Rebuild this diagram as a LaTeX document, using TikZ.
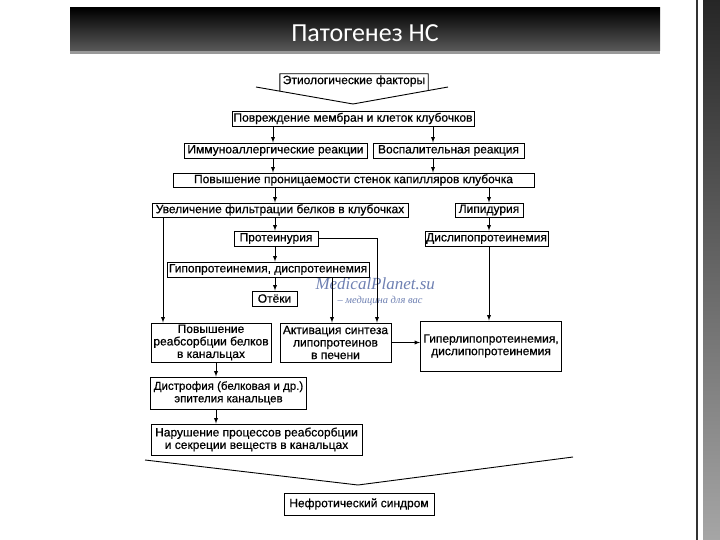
\documentclass[tikz,border=0pt]{standalone}
\usepackage{fontspec}
\setmainfont{Liberation Sans}
\newfontfamily\boxfont{Liberation Sans}[FakeBold=0.6]
\newfontfamily\titlefont{Carlito}
\newfontfamily\wmfont{Liberation Serif}
\definecolor{wmblue}{RGB}{110,128,178}

\begin{document}
\begin{tikzpicture}[x=1pt,y=-1pt,
        box/.style 2 args={draw,line width=0.9pt,inner sep=0pt,align=center,
          minimum width=#1,minimum height=#2,font=\boxfont\fontsize{12}{12.5}\selectfont},
        arr/.style={line width=0.9pt,-latex}]
        \useasboundingbox (0,0) rectangle (720,540);
        \shade[top color=black,bottom color=black!65] (70,8) rectangle (660,51);
        \fill[black!40] (70,51) rectangle (660,54);
        \node[white,font=\titlefont\fontsize{26}{28}\selectfont] (title) at (365,33) {Патогенез НС};
        \draw[black!80,line width=1.5pt] (697,0) -- (697,540);
        \shade[top color=black!85,bottom color=black!35] (703,0) rectangle (720,540);

        \node[wmblue,anchor=west,font=\wmfont\itshape\fontsize{17}{18}\selectfont] (wm) at (312,284) {MedicalPlanet.su};
        \node[wmblue,anchor=west,font=\wmfont\itshape\fontsize{10.5}{11}\selectfont] (wmsub) at (334,301) {– медицина для вас};

        \node[inner sep=0pt,minimum width=148pt,minimum height=14pt,font=\boxfont\fontsize{12}{12.5}\selectfont] (etio) at (354,81) {Этиологические факторы};
        \coordinate (etioL) at (256,87);
        \coordinate (etioT) at (353,104);
        \coordinate (etioR) at (448,87);
        \draw[line width=0.9pt] (etioL) -- (etioT) -- (etioR);
        \draw[line width=0.9pt] (intersection of etio.north west--etio.south west and etioL--etioT) -- (etio.north west)
          -- (etio.north east) -- (intersection of etio.north east--etio.south east and etioT--etioR);

        \node[box={242pt}{15pt}] (dmg) at (353,118.5) {Повреждение мембран и клеток клубочков};
        \node[box={183pt}{15pt}] (imm) at (275.5,150.5) {Иммуноаллергические реакции};
        \node[box={151pt}{15pt}] (infl) at (448.5,150.5) {Воспалительная реакция};
        \node[box={361pt}{14pt}] (perm) at (353.5,180) {Повышение проницаемости стенок капилляров клубочка};
        \node[box={256pt}{14pt}] (filt) at (280,210) {Увеличение фильтрации белков в клубочках};
        \node[box={68pt}{14pt}] (lipid) at (489,210) {Липидурия};
        \node[box={84pt}{15pt}] (prot) at (276,238.5) {Протеинурия};
        \node[box={123pt}{15pt}] (dyslip) at (486.5,238.5) {Дислипопротеинемия};
        \node[box={202pt}{15pt}] (hypo) at (268,269.5) {Гипопротеинемия, диспротеинемия};
        \node[box={45pt}{15pt}] (edema) at (274.5,298.5) {Отёки};
        \node[box={120pt}{39pt}] (reabs) at (211,342.5) {Повышение\\реабсорбции белков\\в канальцах};
        \node[box={111pt}{39pt}] (synth) at (335.5,342.5) {Активация синтеза\\липопротеинов\\в печени};
        \node[box={141pt}{50pt}] (hyper) at (491,346) {Гиперлипопротеинемия,\\дислипопротеинемия};
        \node[box={156pt}{32pt},font=\boxfont\fontsize{11.5}{12.5}\selectfont] (dystr) at (228.5,393) {Дистрофия (белковая и др.)\\эпителия канальцев};
        \node[box={211pt}{31pt}] (disord) at (256.5,439.5) {Нарушение процессов реабсорбции\\и секреции веществ в канальцах};
        \draw[line width=0.9pt] (145,460) -- (358,485) -- (573,457);
        \node[box={150pt}{22pt}] (nephr) at (359,504) {Нефротический синдром};

        \foreach \x/\a/\b in {273/dmg/imm,433/dmg/infl,273/imm/perm,433/infl/perm,275/perm/filt,489/perm/lipid,
            275/filt/prot,489/lipid/dyslip,275/prot/hypo,275/hypo/edema,163/filt/reabs,332/hypo/synth,
            489/dyslip/hyper,216/reabs/dystr,216/dystr/disord}
          \draw[arr] (\x,0 |- \a.south) -- (\x,0 |- \b.north);
        \draw[arr] (prot.east) -| (377,0 |- synth.north);
        \draw[arr] (synth.east) -- (synth.east -| hyper.west);
\end{tikzpicture}
\end{document}
